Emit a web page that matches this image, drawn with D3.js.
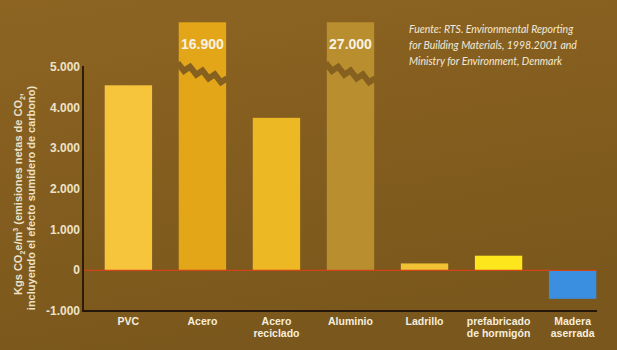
<!DOCTYPE html>
<html>
<head>
<meta charset="utf-8">
<script src="https://cdn.jsdelivr.net/npm/d3@7"></script>
<style>
  body { margin: 0; background: #84601f; }
  svg { display: block; }
</style>
</head>
<body>
<div id="chart"></div>
<script>
const categories = ['PVC', 'Acero', 'Acero reciclado', 'Aluminio', 'Ladrillo', 'prefabricado de hormigón', 'Madera aserrada'];
const labelLines = [['PVC'], ['Acero'], ['Acero', 'reciclado'], ['Aluminio'], ['Ladrillo'], ['prefabricado', 'de hormigón'], ['Madera', 'aserrada']];
const values = [4550, 16900, 3750, 27000, 170, 360, -700];
const barColors = ['#f6c53c', '#e3a618', '#ecb823', '#b98e2f', '#f1c233', '#fde61c', '#3b8fe0'];
const yTicks = [-1000, 0, 1000, 2000, 3000, 4000, 5000];
const sourceLines = ['Fuente: RTS. Environmental Reporting', 'for Building Materials, 1998.2001 and', 'Ministry for Environment, Denmark'];

const width = 617;
const height = 350;
const margins = { top: 67, right: 20, bottom: 39, left: 83 };
const capValue = 6100; // bars above the axis are cut off at the top

const svg = d3.select('#chart').append('svg')
    .attr('width', width)
    .attr('height', height);

const defs = svg.append('defs');
const grad = defs.append('linearGradient').attr('id', 'bg').attr('x1', 0).attr('y1', 0).attr('x2', 0.3).attr('y2', 1);
grad.append('stop').attr('offset', '0%').attr('stop-color', '#8d6422');
grad.append('stop').attr('offset', '100%').attr('stop-color', '#7a571c');
svg.append('rect').attr('width', width).attr('height', height).attr('fill', 'url(#bg)');

const y = d3.scaleLinear().domain([-1000, 5000]).range([height - margins.bottom, margins.top]);
const x = d3.scaleBand().domain(categories).range([101, 600]).paddingInner(0.36).paddingOuter(0.05);

const fontBold = "'Liberation Sans', Arial, sans-serif";

// bars
svg.append('g')
    .selectAll('rect')
    .data(categories)
    .join('rect')
    .attr('x', d => x(d))
    .attr('width', x.bandwidth())
    .attr('y', (d, i) => y(Math.min(Math.max(values[i], 0), capValue)))
    .attr('height', (d, i) => Math.abs(y(Math.min(values[i], capValue)) - y(0)))
    .attr('fill', (d, i) => barColors[i]);

// zigzag breaks + value labels for cut bars
const broken = categories.filter((d, i) => values[i] > capValue);
broken.forEach((d) => {
    const i = categories.indexOf(d);
    const x0 = x(d);
    const w = x.bandwidth();
    const steps = 8;
    const pts = d3.range(steps + 1).map(k => [x0 - 1 + k * (w + 2) / steps, y(5050) + k * 1.9 + (k % 2 ? 4 : -2)]);
    svg.append('path')
        .attr('d', d3.line()(pts))
        .attr('fill', 'none')
        .attr('stroke', '#85601f')
        .attr('stroke-width', 6)
        .attr('stroke-linejoin', 'miter');
    svg.append('text')
        .attr('x', x0 + w / 2)
        .attr('y', 49)
        .attr('text-anchor', 'middle')
        .attr('fill', '#f8f2e4')
        .attr('font-family', fontBold)
        .attr('font-weight', 'bold')
        .attr('font-size', 14)
        .text(d3.format(',')(values[i]).replace(/,/g, '.'));
});

// zero line
svg.append('line')
    .attr('x1', margins.left).attr('x2', 597)
    .attr('y1', y(0)).attr('y2', y(0))
    .attr('stroke', '#cf4418')
    .attr('stroke-width', 1.2);

// axes lines
svg.append('path')
    .attr('d', `M${margins.left},${y(5000) - 1}V${y(-1000)}H597`)
    .attr('fill', 'none')
    .attr('stroke', '#24170a')
    .attr('stroke-width', 1.8);

// y tick labels
svg.append('g')
    .selectAll('text')
    .data(yTicks)
    .join('text')
    .attr('x', 80)
    .attr('y', d => y(d) + 4)
    .attr('text-anchor', 'end')
    .attr('fill', '#ece2c8')
    .attr('font-family', fontBold)
    .attr('font-weight', 'bold')
    .attr('font-size', 12)
    .text(d => d3.format(',')(d).replace(/,/g, '.').replace('−', '-'));

// category labels
svg.append('g')
    .selectAll('text')
    .data(categories)
    .join('text')
    .attr('x', d => x(d) + x.bandwidth() / 2)
    .attr('y', 325)
    .attr('text-anchor', 'middle')
    .attr('fill', '#f6eedc')
    .attr('font-family', fontBold)
    .attr('font-weight', 'bold')
    .attr('font-size', 10.5)
    .each(function (d, i) {
        d3.select(this).selectAll('tspan')
            .data(labelLines[i])
            .join('tspan')
            .attr('x', x(d) + x.bandwidth() / 2)
            .attr('dy', (t, k) => (k === 0 ? 0 : 12))
            .text(t => t);
    });

// y axis title
const yTitle = svg.append('text')
    .attr('transform', 'translate(22,194) rotate(-90)')
    .attr('text-anchor', 'middle')
    .attr('fill', '#ece2c8')
    .attr('font-family', fontBold)
    .attr('font-weight', 'bold')
    .attr('font-size', 11);
const l1 = yTitle.append('tspan').attr('x', 0).attr('dy', 0);
l1.append('tspan').text('Kgs CO');
l1.append('tspan').attr('font-size', 7).attr('dy', 3).text('2');
l1.append('tspan').attr('dy', -3).text('e/m');
l1.append('tspan').attr('font-size', 7).attr('dy', -4).text('3');
l1.append('tspan').attr('dy', 4).text(' (emisiones netas de CO');
l1.append('tspan').attr('font-size', 7).attr('dy', 3).text('2');
l1.append('tspan').attr('dy', -3).text(',');
yTitle.append('tspan').attr('x', -4).attr('dy', 13).text('incluyendo el efecto sumidero de carbono)');

// source note
svg.append('g')
    .selectAll('text')
    .data(sourceLines)
    .join('text')
    .attr('x', 409)
    .attr('y', (d, i) => 33 + i * 16)
    .attr('fill', '#f2ead8')
    .attr('font-family', "Lato, 'Open Sans', sans-serif")
    .attr('font-style', 'italic')
    .attr('font-size', 10.5)
    .text(d => d);
</script>
</body>
</html>
